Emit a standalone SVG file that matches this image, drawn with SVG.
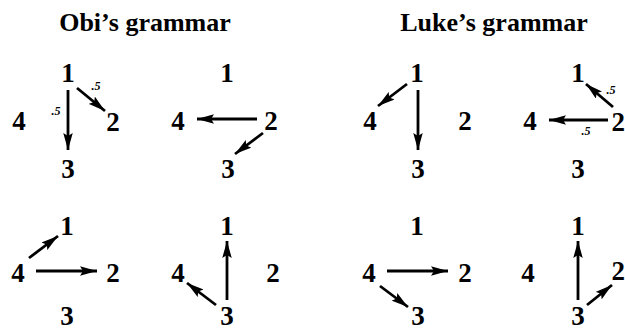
<svg xmlns="http://www.w3.org/2000/svg" width="625" height="330" viewBox="0 0 625 330">
<style>
.t{font-family:"Liberation Serif","Times New Roman",serif;font-weight:bold;font-size:26px;fill:#000;text-anchor:middle}
.n{font-family:"Liberation Serif","Times New Roman",serif;font-weight:bold;font-size:27px;fill:#000;text-anchor:middle}
.e{text-anchor:end}
.p{font-family:"Liberation Serif","Times New Roman",serif;font-weight:bold;font-style:italic;font-size:12px;fill:#000;text-anchor:middle}
.a{stroke:#000;stroke-width:2.8;fill:none;marker-end:url(#ah)}
</style>
<defs>
<marker id="ah" markerUnits="userSpaceOnUse" markerWidth="18" markerHeight="10" refX="17" refY="4.75" orient="auto" viewBox="0 0 18 10">
<path d="M0,0 L17,4.75 L0,9.5 L3,4.75 z" fill="#000"/>
</marker>
</defs>
<rect width="625" height="330" fill="#fff"/>
<text class="t" x="145" y="31">Obi’s grammar</text>
<text class="t" x="494" y="31">Luke’s grammar</text>

<g id="p1">
<g id="p1n1"><text class="n" x="68" y="82">1</text></g>
<g id="p1n2"><text class="n" x="113" y="131">2</text></g>
<g id="p1n3"><text class="n" x="68" y="178">3</text></g>
<g id="p1n4"><text class="n" x="19" y="130">4</text></g>
</g>
<g id="p2">
<g id="p2n1"><text class="n" x="227" y="82">1</text></g>
<g id="p2n2"><text class="n" x="271" y="130">2</text></g>
<g id="p2n3"><text class="n" x="228" y="178">3</text></g>
<g id="p2n4"><text class="n" x="178" y="130">4</text></g>
</g>
<g id="p3">
<g id="p3n1"><text class="n" x="417" y="82">1</text></g>
<g id="p3n2"><text class="n" x="465" y="130">2</text></g>
<g id="p3n3"><text class="n" x="418" y="178">3</text></g>
<g id="p3n4"><text class="n" x="370" y="130">4</text></g>
</g>
<g id="p4">
<g id="p4n1"><text class="n" x="578" y="82">1</text></g>
<g id="p4n2"><text class="n e" x="625" y="131">2</text></g>
<g id="p4n3"><text class="n" x="578" y="178">3</text></g>
<g id="p4n4"><text class="n" x="530" y="130">4</text></g>
</g>
<g id="p5">
<g id="p5n1"><text class="n" x="67" y="235">1</text></g>
<g id="p5n2"><text class="n" x="113" y="282">2</text></g>
<g id="p5n3"><text class="n" x="67" y="325">3</text></g>
<g id="p5n4"><text class="n" x="18" y="282">4</text></g>
</g>
<g id="p6">
<g id="p6n1"><text class="n" x="227" y="235">1</text></g>
<g id="p6n2"><text class="n" x="273" y="282">2</text></g>
<g id="p6n3"><text class="n" x="227" y="325">3</text></g>
<g id="p6n4"><text class="n" x="178" y="282">4</text></g>
</g>
<g id="p7">
<g id="p7n1"><text class="n" x="417" y="235">1</text></g>
<g id="p7n2"><text class="n" x="465" y="282">2</text></g>
<g id="p7n3"><text class="n" x="418" y="325">3</text></g>
<g id="p7n4"><text class="n" x="369" y="282">4</text></g>
</g>
<g id="p8">
<g id="p8n1"><text class="n" x="578" y="235">1</text></g>
<g id="p8n2"><text class="n e" x="625" y="280">2</text></g>
<g id="p8n3"><text class="n" x="578" y="325">3</text></g>
<g id="p8n4"><text class="n" x="528" y="282">4</text></g>
</g>

<g id="connectors">
<line class="a" x1="68" y1="90" x2="68" y2="150"/>
<line class="a" x1="77" y1="88" x2="105" y2="111"/>
<line class="a" x1="257" y1="119" x2="197" y2="119"/>
<line class="a" x1="263" y1="133" x2="235" y2="154"/>
<line class="a" x1="418" y1="90" x2="418" y2="150"/>
<line class="a" x1="407" y1="84" x2="378" y2="106"/>
<line class="a" x1="608" y1="120" x2="549" y2="120"/>
<line class="a" x1="613" y1="107" x2="586" y2="84"/>
<line class="a" x1="29" y1="258" x2="58" y2="236"/>
<line class="a" x1="36" y1="271" x2="97" y2="271"/>
<line class="a" x1="227" y1="300" x2="227" y2="241"/>
<line class="a" x1="216" y1="305" x2="187" y2="283"/>
<line class="a" x1="387" y1="271" x2="448" y2="271"/>
<line class="a" x1="380" y1="286" x2="408" y2="307"/>
<line class="a" x1="578" y1="300" x2="578" y2="241"/>
<line class="a" x1="587" y1="305" x2="612" y2="285"/>
<text class="p" x="56" y="115">.5</text>
<text class="p" x="96" y="90">.5</text>
<text class="p" x="611" y="94">.5</text>
<text class="p" x="586" y="135">.5</text>
</g>
</svg>
